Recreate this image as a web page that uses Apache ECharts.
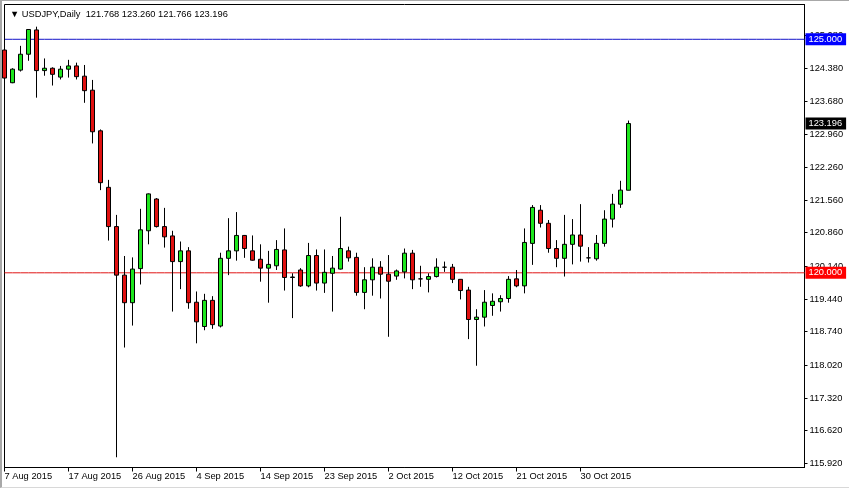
<!DOCTYPE html>
<html>
<head>
<meta charset="utf-8">
<script src="https://cdn.jsdelivr.net/npm/echarts@6/dist/echarts.min.js"></script>
<style>
html,body{margin:0;padding:0;background:#fff;}
#chart{position:absolute;left:0;top:0;width:849px;height:488px;}
#frame{position:absolute;left:0;top:0;width:849px;height:488px;box-sizing:border-box;border-left:2px solid #a8a8a8;border-top:1px solid #a8a8a8;border-bottom:1px solid #d8d8d8;pointer-events:none;}
</style>
</head>
<body>
<div id="chart"></div>
<div id="frame"></div>
<script>
// ---- data (USDJPY daily) ----
const dates = [
 '7 Aug 2015','9 Aug 2015','10 Aug 2015','11 Aug 2015','12 Aug 2015','13 Aug 2015','14 Aug 2015',
 '16 Aug 2015','17 Aug 2015','18 Aug 2015','19 Aug 2015','20 Aug 2015','21 Aug 2015',
 '23 Aug 2015','24 Aug 2015','25 Aug 2015','26 Aug 2015','27 Aug 2015','28 Aug 2015',
 '30 Aug 2015','31 Aug 2015','1 Sep 2015','2 Sep 2015','3 Sep 2015','4 Sep 2015',
 '6 Sep 2015','7 Sep 2015','8 Sep 2015','9 Sep 2015','10 Sep 2015','11 Sep 2015',
 '13 Sep 2015','14 Sep 2015','15 Sep 2015','16 Sep 2015','17 Sep 2015','18 Sep 2015',
 '20 Sep 2015','21 Sep 2015','22 Sep 2015','23 Sep 2015','24 Sep 2015','25 Sep 2015',
 '27 Sep 2015','28 Sep 2015','29 Sep 2015','30 Sep 2015','1 Oct 2015','2 Oct 2015',
 '4 Oct 2015','5 Oct 2015','6 Oct 2015','7 Oct 2015','8 Oct 2015','9 Oct 2015',
 '11 Oct 2015','12 Oct 2015','13 Oct 2015','14 Oct 2015','15 Oct 2015','16 Oct 2015',
 '18 Oct 2015','19 Oct 2015','20 Oct 2015','21 Oct 2015','22 Oct 2015','23 Oct 2015',
 '25 Oct 2015','26 Oct 2015','27 Oct 2015','28 Oct 2015','29 Oct 2015','30 Oct 2015',
 '1 Nov 2015','2 Nov 2015','3 Nov 2015','4 Nov 2015','5 Nov 2015','6 Nov 2015'
];
const opens = [
 124.77,124.07,124.34,124.68,125.20,124.33,124.38,
 124.19,124.36,124.43,124.21,123.91,123.04,
 121.83,120.99,119.95,119.36,120.09,120.90,
 121.58,120.99,120.79,120.24,120.47,119.37,
 118.85,119.41,118.86,120.31,120.47,120.80,
 120.47,120.29,120.10,120.15,120.49,119.90,
 120.06,119.72,120.37,119.78,119.99,120.08,
 120.47,120.33,119.58,119.85,120.12,119.97,
 119.93,120.02,120.42,119.87,119.86,119.92,
 120.12,120.12,119.86,119.63,119.00,119.05,
 119.30,119.38,119.45,119.87,119.72,120.63,
 121.34,121.06,120.52,120.31,120.61,120.81,
 120.32,120.30,120.63,121.15,121.47,121.768
];
const closes = [
 124.17,124.36,124.68,125.21,124.33,124.38,124.25,
 124.36,124.43,124.20,123.90,123.02,121.93,
 120.99,119.95,119.36,120.08,120.92,121.69,
 120.99,120.77,120.24,120.47,119.36,118.95,
 119.41,118.89,120.31,120.47,120.80,120.52,
 120.27,120.10,120.18,120.50,119.90,119.91,
 119.72,120.37,119.78,120.01,120.10,120.52,
 120.32,119.58,119.85,120.12,119.97,119.82,
 120.04,120.42,119.85,119.87,119.92,120.12,
 120.12,119.86,119.62,119.00,119.05,119.37,
 119.39,119.45,119.86,119.72,120.65,121.40,
 121.06,120.52,120.31,120.61,120.81,120.57,
 120.32,120.63,121.15,121.47,121.77,123.196
];
const lows = [
 124.07,124.06,124.31,124.54,123.75,124.22,124.01,
 124.14,124.18,124.14,123.64,122.77,121.77,
 120.69,116.05,118.40,118.87,119.75,120.61,
 120.97,120.54,119.17,119.65,119.23,118.49,
 118.77,118.80,118.83,119.95,120.26,120.32,
 120.26,119.81,119.36,120.06,119.62,119.03,
 119.70,119.69,119.62,119.57,119.17,120.07,
 120.24,119.51,119.22,119.51,119.45,118.63,
 119.85,119.88,119.65,119.70,119.58,119.90,
 120.02,119.78,119.43,118.58,118.01,118.85,
 119.08,119.17,119.36,119.69,119.56,120.17,
 120.97,120.43,120.12,119.92,120.18,120.24,
 120.22,120.26,120.56,120.97,121.39,121.766
];
const highs = [
 125.02,124.38,124.86,125.22,125.27,124.59,124.40,
 124.43,124.56,124.50,124.45,124.13,123.07,
 121.99,121.24,120.36,120.33,121.37,121.70,
 121.60,121.39,120.90,120.67,120.55,119.60,
 119.55,119.50,120.43,121.17,121.30,120.81,
 120.80,120.61,120.47,120.70,120.95,119.99,
 120.10,120.64,120.50,120.50,120.36,121.20,
 120.56,120.43,120.12,120.31,120.25,120.38,
 120.07,120.52,120.49,120.15,119.99,120.31,
 120.24,120.19,119.86,119.70,119.22,119.63,
 119.56,119.52,119.93,120.06,120.95,121.45,
 121.45,121.13,120.70,121.24,121.15,121.47,
 120.55,120.81,121.34,121.69,121.97,123.260
];
const priceTicks = [115.92,116.62,117.32,118.02,118.74,119.44,120.14,120.86,121.56,122.26,122.96,123.68,124.38,125.08];
const levelLines = [125.000, 120.000];
const symbolName = 'USDJPY,Daily';
const totalSlots = 101; // visible bar slots on the time axis

// ---- build ----
const cats = dates.slice();
while (cats.length < totalSlots) cats.push('');
const ohlc = dates.map((d, i) => [opens[i], closes[i], lows[i], highs[i]]);
const last = dates.length - 1;
const headerText = '\u25BC ' + symbolName + '  ' +
  [opens[last], highs[last], lows[last], closes[last]].map(v => v.toFixed(3)).join(' ');

const FONT = 'Liberation Sans';
const FS = 9.3;
const showTick = (idx, val) => val !== '' && idx % 8 === 0;

function levelSeries(value, lineColor, boxColor, lineOpacity) {
  return {
    type: 'line', silent: true, z: 3,
    data: cats.map(() => value),
    showSymbol: false, symbol: 'none',
    lineStyle: {color: lineColor, width: 1, type: 'solid', opacity: lineOpacity},
    itemStyle: {color: lineColor},
    emphasis: {disabled: true},
    endLabel: {
      show: true, distance: 1, color: '#fff', backgroundColor: boxColor,
      fontFamily: FONT, fontSize: FS, padding: [2, 4, 1, 3],
      formatter: () => value.toFixed(3)
    }
  };
}

const chart = echarts.init(document.getElementById('chart'), null, {renderer: 'canvas'});
chart.setOption({
  animation: false,
  backgroundColor: '#ffffff',
  textStyle: {fontFamily: FONT},
  title: {
    text: headerText, left: 5, top: 5,
    textStyle: {fontFamily: FONT, fontSize: FS, fontWeight: 'normal', color: '#000'}
  },
  grid: {left: 4.5, right: 44.5, top: 4.5, bottom: 20.5, show: true, borderColor: '#000', borderWidth: 1, backgroundColor: 'transparent'},
  xAxis: {
    type: 'category', data: cats, boundaryGap: false,
    axisLine: {show: true, lineStyle: {color: '#000', width: 1}},
    axisTick: {show: true, length: 4, interval: showTick, lineStyle: {color: '#000'}},
    axisLabel: {interval: showTick, align: 'left', margin: 4, color: '#000', fontFamily: FONT, fontSize: FS},
    splitLine: {show: false}
  },
  yAxis: {
    type: 'value', position: 'right', min: 115.831, max: 125.745, scale: true,
    axisLine: {show: true, lineStyle: {color: '#000', width: 1}},
    axisTick: {show: true, length: 3, customValues: priceTicks, lineStyle: {color: '#000'}},
    axisLabel: {customValues: priceTicks, margin: 5, color: '#000', fontFamily: FONT, fontSize: FS,
      formatter: v => v.toFixed(3)},
    splitLine: {show: false}
  },
  series: [
    levelSeries(levelLines[0], '#1414c8', '#0000ff', 1),
    levelSeries(levelLines[1], '#e01414', '#ff0000', 1),
    levelSeries(closes[last], '#000000', '#000000', 0),
    {
      type: 'candlestick',
      data: ohlc,
      barWidth: 5, z: 4,
      itemStyle: {color: '#1ee61e', color0: '#e01010', borderColor: '#000', borderColor0: '#000', borderWidth: 1}
    }
  ]
});
</script>
</body>
</html>
